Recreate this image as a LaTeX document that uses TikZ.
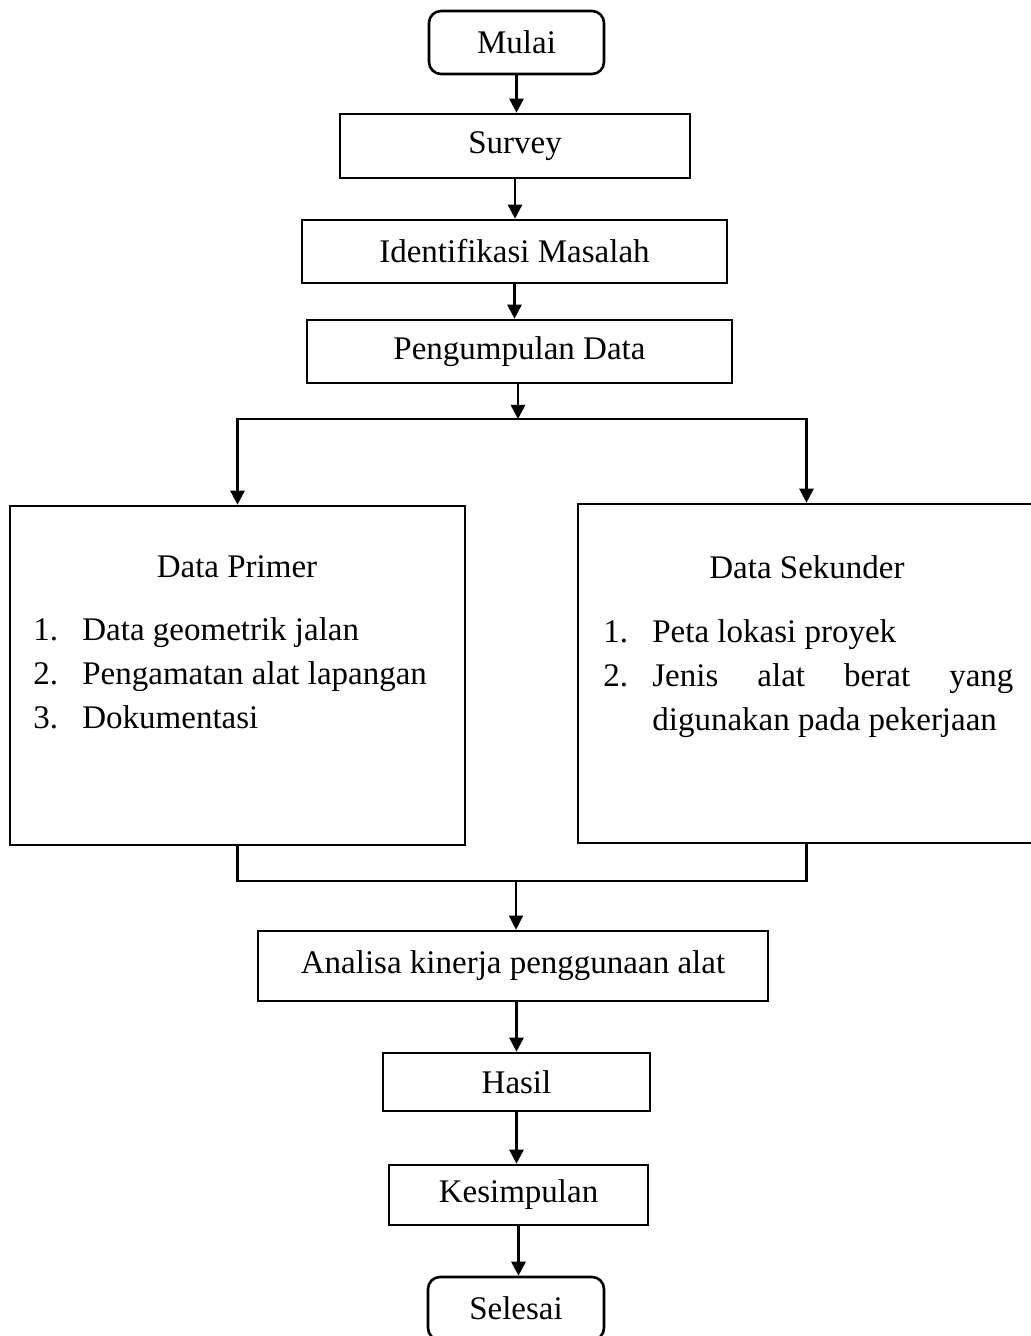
\documentclass[tikz,border=0pt]{standalone}
\usepackage{fontspec}
\setmainfont{Liberation Serif}
\usetikzlibrary{arrows.meta,positioning,calc}
\hbadness=10000

% satu butir daftar bernomor
\newcommand{\butir}[2]{\par\noindent\hangindent=24.5pt\hangafter=1\makebox[24.5pt][l]{#1.}#2}

\begin{document}
\begin{tikzpicture}[x=0.5pt,y=-0.5pt,
    font=\fontsize{16.5}{22}\selectfont,
    kotak/.style={draw,line width=1.3pt,inner sep=0pt,align=center},
    ujung/.style={kotak,rounded corners=6pt},
    panah/.style={line width=1.3pt,-{Triangle[length=7pt,width=7pt]}},
    tipis/.style={line width=0.7pt,-{Triangle[length=7pt,width=7pt]}},
    isi/.style={inner sep=0pt,anchor=base west}]
    \useasboundingbox (0,0) rectangle (1030,1336);

    \node[ujung,minimum width=87.5pt,minimum height=31.5pt] (mulai) at (516.5,42.5) {Mulai};
    \node[kotak,minimum width=175pt,minimum height=32pt] (survey) at (515,146) {Survey};
    \node[kotak,minimum width=212.5pt,minimum height=31.5pt] (identifikasi) at (514.5,251.5) {Identifikasi Masalah};
    \node[kotak,minimum width=212.5pt,minimum height=31.5pt] (pengumpulan) at (519.5,351.5) {Pengumpulan Data};

    \node[kotak,minimum width=227.5pt,minimum height=169.5pt] (primer) at (237.5,675.5) {};
    \node[inner sep=0pt,anchor=base] (judulprimer) at (237,577) {Data Primer};
    \node[isi] (daftarprimer) at (33,640) {\parbox[t]{215pt}{\raggedright
        \butir{1}{Data geometrik jalan}\butir{2}{Pengamatan alat lapangan}\butir{3}{Dokumentasi}}};

    \node[kotak,minimum width=228.5pt,minimum height=169.5pt] (sekunder) at (806.5,673.5) {};
    \node[inner sep=0pt,anchor=base] (judulsekunder) at (807,578) {Data Sekunder};
    \node[isi] (daftarsekunder) at (603,642) {\parbox[t]{205pt}{%
        \butir{1}{Peta lokasi proyek}\butir{2}{Jenis alat berat yang\linebreak digunakan pada pekerjaan}}};

    \node[kotak,minimum width=255pt,minimum height=35pt] (analisa) at (513,966) {Analisa kinerja penggunaan alat};
    \node[kotak,minimum width=133.5pt,minimum height=29pt] (hasil) at (516.5,1082) {Hasil};
    \node[kotak,minimum width=129.5pt,minimum height=30pt] (kesimpulan) at (518.5,1195) {Kesimpulan};
    \node[ujung,minimum width=88pt,minimum height=31.5pt] (selesai) at (516,1308.5) {Selesai};

    \coordinate (cabang) at (518,419);
    \coordinate (gabung) at (516,881);

    \draw[panah] (mulai.south) -- (mulai.south |- survey.north);
    \draw[panah] (survey.south) -- (survey.south |- identifikasi.north);
    \draw[panah] (identifikasi.south) -- (identifikasi.south |- pengumpulan.north);
    \draw[panah] (pengumpulan.south -| cabang) -- (cabang);
    \draw[panah] (cabang) -| (primer.north);
    \draw[panah] (cabang) -| (sekunder.north);

    \draw[line width=1.3pt] (primer.south) |- (gabung);
    \draw[line width=1.3pt] (sekunder.south) |- (gabung);
    \draw[tipis] (gabung) -- (gabung |- analisa.north);

    \draw[panah] (analisa.south -| hasil) -- (hasil.north);
    \draw[panah] (hasil.south) -- (hasil.south |- kesimpulan.north);
    \draw[panah] (kesimpulan.south) -- (kesimpulan.south |- selesai.north);
\end{tikzpicture}
\end{document}
